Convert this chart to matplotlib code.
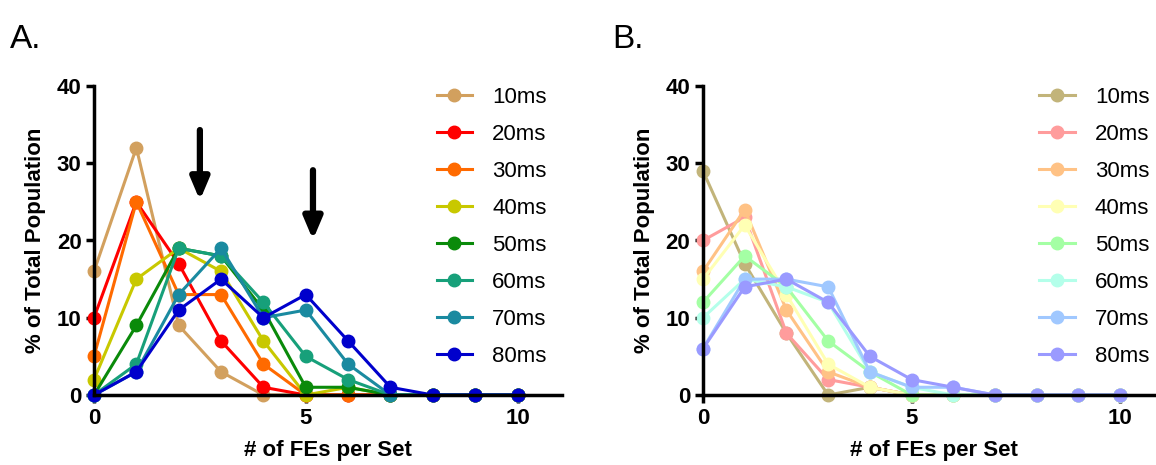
import numpy as np
import matplotlib.pyplot as plt

plt.rcParams['font.family'] = ['Liberation Sans', 'DejaVu Sans']

x = np.arange(0, 11)
labels = ["10ms", "20ms", "30ms", "40ms", "50ms", "60ms", "70ms", "80ms"]

# panel A values (% of total population)
a_10 = [16, 32, 9, 3, 0, 0, 0, 0, 0, 0, 0]
a_20 = [10, 25, 17, 7, 1, 0, 0, 0, 0, 0, 0]
a_30 = [5, 25, 13, 13, 4, 0, 0, 0, 0, 0, 0]
a_40 = [2, 15, 19, 16, 7, 0, 1, 0, 0, 0, 0]
a_50 = [0, 9, 19, 18, 11, 1, 1, 0, 0, 0, 0]
a_60 = [0, 4, 19, 18, 12, 5, 2, 0, 0, 0, 0]
a_70 = [0, 3, 13, 19, 10, 11, 4, 0, 0, 0, 0]
a_80 = [0, 3, 11, 15, 10, 13, 7, 1, 0, 0, 0]

# panel B values
b_10 = [29, 17, 8, 0, 1, 0, 0, 0, 0, 0, 0]
b_20 = [20, 23, 8, 2, 1, 0, 0, 0, 0, 0, 0]
b_30 = [16, 24, 11, 3, 1, 0, 0, 0, 0, 0, 0]
b_40 = [15, 22, 13, 4, 1, 0, 0, 0, 0, 0, 0]
b_50 = [12, 18, 14, 7, 3, 0, 0, 0, 0, 0, 0]
b_60 = [10, 15, 14, 12, 3, 1, 0, 0, 0, 0, 0]
b_70 = [6, 15, 15, 14, 3, 1, 1, 0, 0, 0, 0]
b_80 = [6, 14, 15, 12, 5, 2, 1, 0, 0, 0, 0]

colors_a = ["#D2A05E", "#FF0000", "#FF6A00", "#C8C800", "#0A8A0A",
            "#17A07A", "#1A8AA0", "#0000CC"]
colors_b = ["#C2B47A", "#FF9C9C", "#FFC285", "#FFFFB4", "#A4FFA4",
            "#B4FFEA", "#A0C8FF", "#9A9AFF"]

series_a = [a_10, a_20, a_30, a_40, a_50, a_60, a_70, a_80]
series_b = [b_10, b_20, b_30, b_40, b_50, b_60, b_70, b_80]

fig = plt.figure(figsize=(11.56, 4.65), dpi=100)
W, H = 1156, 465


def make_axes(left, right):
    return fig.add_axes([left / W, 1 - 395 / H, (right - left) / W, (395 - 86) / H])


def draw(ax, series, colors, leg_x):
    for s, c, lab in zip(series, colors, labels):
        ax.plot(x, s, color=c, lw=2.2, marker="o", ms=9, label=lab, clip_on=False)
    ax.set_xlim(0, 11.05)
    ax.set_ylim(0, 40)
    ax.set_xticks([0, 5, 10])
    ax.set_yticks([0, 10, 20, 30, 40])
    for sp in ["top", "right"]:
        ax.spines[sp].set_visible(False)
    for sp in ["left", "bottom"]:
        ax.spines[sp].set_linewidth(2.5)
    ax.tick_params(width=2.5, length=6, labelsize=16, pad=3)
    for t in ax.get_xticklabels() + ax.get_yticklabels():
        t.set_fontweight("bold")
    ax.set_xlabel("# of FEs per Set", fontsize=16, fontweight="bold", labelpad=8)
    ax.set_ylabel("% of Total Population", fontsize=16, fontweight="bold", labelpad=8)
    ax.legend(loc="upper left", bbox_to_anchor=(leg_x, 1.027), frameon=False,
              fontsize=16, handlelength=1.6, labelspacing=0.72, handletextpad=0.9,
              borderaxespad=0)


ax1 = make_axes(94, 562)
draw(ax1, series_a, colors_a, 0.713)
ax2 = make_axes(703, 1164)
draw(ax2, series_b, colors_b, 0.71)

# arrows in panel A
for ax_x, y_top, y_bot in [(2.5, 34.3, 25.2), (5.17, 29.1, 20.1)]:
    ax1.annotate("", xy=(ax_x, y_bot), xytext=(ax_x, y_top),
                 arrowprops=dict(arrowstyle="-|>,head_width=0.55,head_length=1.3",
                                 color="black", lw=4.5, shrinkA=0, shrinkB=0))

fig.text(10 / W, 1 - 40 / H, "A.", fontsize=24, va="center")
fig.text(612 / W, 1 - 40 / H, "B.", fontsize=24, va="center")

fig.savefig("out.png", dpi=100)
